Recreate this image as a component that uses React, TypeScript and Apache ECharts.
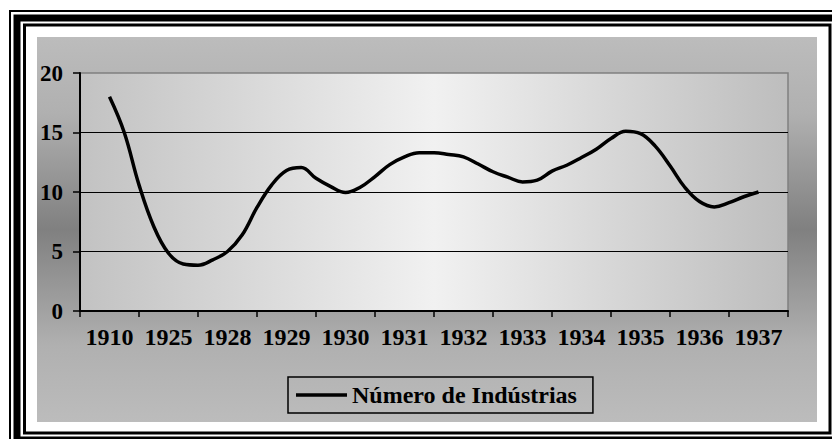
import React, { useEffect, useRef } from "react";
import * as echarts from "echarts";

const years = ["1910", "1925", "1928", "1929", "1930", "1931", "1932", "1933", "1934", "1935", "1936", "1937"];
// values read every quarter of a category step, from the 1910 centre to the 1937 centre
const industrias = [
  18.0, 15.0, 10.6, 7.1, 4.85, 3.95, 3.85, 4.3, 5.0, 6.4, 8.7, 10.6, 11.8, 12.05, 11.15, 10.45,
  9.95, 10.4, 11.3, 12.3, 12.95, 13.3, 13.3, 13.15, 12.95, 12.35, 11.7, 11.25, 10.85, 11.0,
  11.75, 12.25, 12.9, 13.6, 14.5, 15.1, 14.9, 13.85, 12.2, 10.4, 9.2, 8.75, 9.1, 9.6, 10.0,
];
const yTicks = [0, 5, 10, 15, 20];
const seriesName = "Número de Indústrias";

const FONT = "'Liberation Serif', 'Times New Roman', serif";

export default function App() {
  const ref = useRef<HTMLDivElement>(null);
  useEffect(() => {
    if (!ref.current) return;
    const chart = echarts.init(ref.current, undefined, { renderer: "svg" });
    const stepsPerCat = (industrias.length - 1) / (years.length - 1);
    chart.setOption({
      animation: false,
      backgroundColor: "#ffffff",
      graphic: [
        {
          type: "rect",
          z: -5,
          shape: { x: 37, y: 37, width: 780, height: 385 },
          style: {
            fill: {
              type: "linear", x: 0, y: 0, x2: 0, y2: 1,
              colorStops: [
                { offset: 0, color: "#bcbcbc" },
                { offset: 0.2, color: "#b0b0b0" },
                { offset: 0.5, color: "#808080" },
                { offset: 0.8, color: "#b0b0b0" },
                { offset: 1, color: "#bcbcbc" },
              ],
            },
          },
        },
        { type: "rect", z: 10, shape: { x: 10, y: 11, width: 900, height: 800 }, style: { fill: "rgba(0,0,0,0)", stroke: "#000", lineWidth: 2 } },
        { type: "rect", z: 10, shape: { x: 17, y: 18, width: 820, height: 422 }, style: { fill: "rgba(0,0,0,0)", stroke: "#000", lineWidth: 7 } },
        { type: "rect", z: 10, shape: { x: 24.5, y: 25, width: 805.5, height: 408 }, style: { fill: "rgba(0,0,0,0)", stroke: "#000", lineWidth: 3 } },
      ],
      grid: {
        left: 80, right: 44, top: 73, bottom: 128,
        show: true,
        borderColor: "#808080",
        borderWidth: 1.5,
        backgroundColor: {
          type: "linear", x: 0, y: 0, x2: 1, y2: 0,
          colorStops: [
            { offset: 0, color: "#c2c2c2" },
            { offset: 0.5, color: "#f1f1f1" },
            { offset: 1, color: "#bdbdbd" },
          ],
        },
      },
      legend: {
        show: true,
        left: 288,
        top: 377,
        padding: [6, 16, 6, 8],
        borderColor: "#000",
        borderWidth: 1.5,
        itemWidth: 51,
        itemHeight: 3.5,
        icon: "rect",
        data: [{ name: seriesName, icon: "rect" }],
        textStyle: { fontFamily: FONT, fontWeight: "bold", fontSize: 24, color: "#000" },
      },
      xAxis: [
        {
          type: "category",
          data: years,
          boundaryGap: true,
          axisLine: { lineStyle: { color: "#000", width: 2 } },
          axisTick: { show: true, length: 6, lineStyle: { color: "#000", width: 1.5 } },
          axisLabel: { interval: 0, margin: 14, fontFamily: FONT, fontWeight: "bold", fontSize: 24, color: "#000" },
          splitLine: { show: false },
        },
        {
          type: "value",
          min: -0.5,
          max: 11.5,
          show: false,
          splitLine: { show: false },
        },
      ],
      yAxis: {
        type: "value",
        min: yTicks[0],
        max: yTicks[yTicks.length - 1],
        interval: 5,
        axisLine: { show: true, onZero: false, lineStyle: { color: "#000", width: 2 } },
        axisTick: { show: true, length: 7, lineStyle: { color: "#000", width: 1.5 } },
        axisLabel: { margin: 17, fontFamily: FONT, fontWeight: "bold", fontSize: 23, color: "#000" },
        splitLine: { show: true, showMaxLine: false, showMinLine: false, lineStyle: { color: "#000", width: 1.2 } },
      },
      series: [
        {
          name: seriesName,
          type: "line",
          xAxisIndex: 1,
          smooth: 0.4,
          symbol: "none",
          lineStyle: { color: "#000", width: 3.5 },
          itemStyle: { color: "#000" },
          data: industrias.map((v, i) => [i / stepsPerCat, v]),
        },
      ],
    });
    return () => chart.dispose();
  }, []);
  return (
    <div
      ref={ref}
      style={{ position: "absolute", left: 0, top: 0, width: 832, height: 439, background: "#fff" }}
    />
  );
}
